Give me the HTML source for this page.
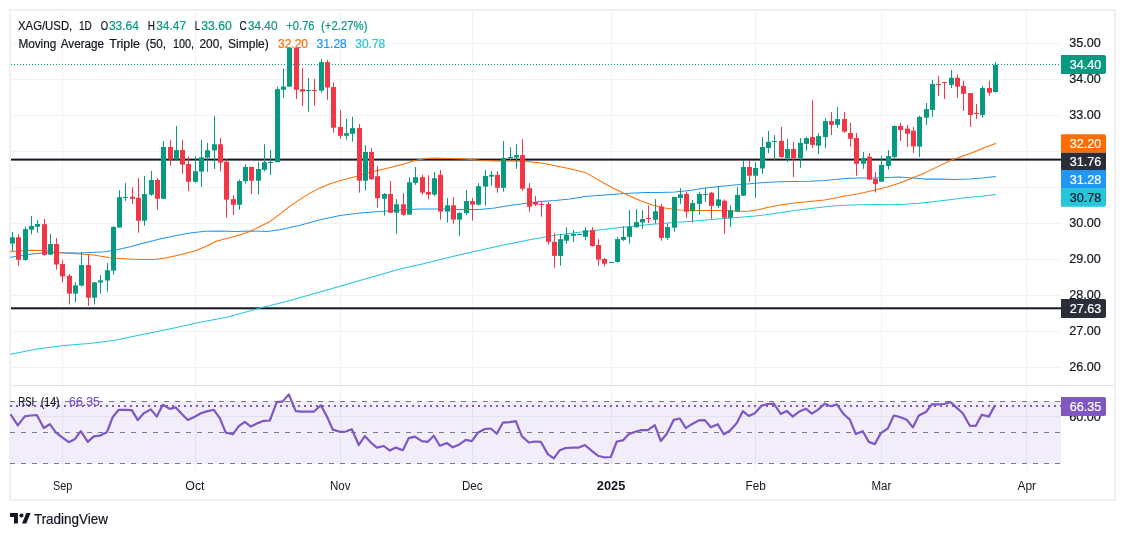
<!DOCTYPE html><html><head><meta charset="utf-8"><title>XAG/USD</title>
<style>html,body{margin:0;padding:0;background:#fff}body{width:1125px;height:537px;overflow:hidden;font-family:"Liberation Sans",sans-serif}svg{display:block}text{font-family:"Liberation Sans",sans-serif}</style></head><body>
<svg width="1125" height="537" viewBox="0 0 1125 537">
<rect width="1125" height="537" fill="#fff"/>
<rect x="10" y="10" width="1105" height="490" fill="none" stroke="#eef0f4" stroke-width="2"/>
<g stroke="#f1f2f4" stroke-width="1" shape-rendering="crispEdges">
<line x1="11" x2="1061" y1="43.5" y2="43.5"/>
<line x1="11" x2="1061" y1="79.5" y2="79.5"/>
<line x1="11" x2="1061" y1="115.5" y2="115.5"/>
<line x1="11" x2="1061" y1="151.5" y2="151.5"/>
<line x1="11" x2="1061" y1="187.5" y2="187.5"/>
<line x1="11" x2="1061" y1="223.5" y2="223.5"/>
<line x1="11" x2="1061" y1="259.5" y2="259.5"/>
<line x1="11" x2="1061" y1="295.5" y2="295.5"/>
<line x1="11" x2="1061" y1="331.5" y2="331.5"/>
<line x1="11" x2="1061" y1="367.5" y2="367.5"/>
<line x1="62.5" x2="62.5" y1="11" y2="471"/>
<line x1="195.5" x2="195.5" y1="11" y2="471"/>
<line x1="340.5" x2="340.5" y1="11" y2="471"/>
<line x1="472.5" x2="472.5" y1="11" y2="471"/>
<line x1="611.5" x2="611.5" y1="11" y2="471"/>
<line x1="755.5" x2="755.5" y1="11" y2="471"/>
<line x1="881.5" x2="881.5" y1="11" y2="471"/>
<line x1="1026.5" x2="1026.5" y1="11" y2="471"/>
<line x1="11" x2="1061" y1="416.5" y2="416.5"/>
</g>
<line x1="11" x2="1114" y1="385.5" y2="385.5" stroke="#e0e3eb" stroke-width="1" shape-rendering="crispEdges"/>
<rect x="11" y="401" width="1050" height="63" fill="#7e57c2" fill-opacity="0.1"/>
<g stroke="#787b86" stroke-width="1" stroke-dasharray="5 6" shape-rendering="crispEdges">
<line x1="10" x2="1061" y1="401.5" y2="401.5"/>
<line x1="10" x2="1061" y1="432.5" y2="432.5"/>
<line x1="10" x2="1061" y1="463.5" y2="463.5"/>
</g>
<rect x="11" y="158.6" width="1050" height="2" fill="#131722"/>
<rect x="11" y="307.3" width="1050" height="2" fill="#131722"/>
<polyline points="10.7,354.3 35.6,349.3 64.0,345.4 88.9,343.6 113.8,340.4 142.2,334.4 170.7,328.7 199.1,322.6 227.6,316.9 263.1,307.3 284.4,302.0 320.0,292.0 355.6,281.7 400.0,268.9 422.3,264.0 454.7,256.0 479.7,250.3 504.6,244.8 529.6,239.8 555.0,235.3 575.0,232.8 595.0,230.6 615.0,228.1 634.9,226.1 654.8,224.1 674.8,222.6 694.8,221.1 714.7,219.3 734.7,217.8 754.6,216.1 774.6,213.6 794.6,210.6 814.5,207.9 830.0,206.3 845.0,205.3 860.0,204.8 874.9,204.6 889.8,204.8 904.8,204.3 919.8,203.3 934.8,201.6 949.7,199.8 964.7,197.8 979.7,196.4 995.5,194.6" fill="none" stroke="#26c6da" stroke-width="1.05" stroke-linejoin="round" stroke-linecap="round"/>
<polyline points="10.5,257.3 30.0,254.3 42.4,253.0 60.0,252.8 80.0,253.0 105.0,251.8 117.0,249.8 130.0,246.8 145.0,242.8 160.0,239.0 175.0,235.8 190.0,233.0 205.0,231.3 219.6,231.0 234.6,231.5 251.0,231.0 267.0,231.5 274.5,230.5 280.0,229.8 300.0,225.3 320.0,219.8 340.0,215.6 359.9,213.1 379.8,211.4 399.8,209.9 419.8,208.9 439.7,208.9 459.7,209.4 479.7,209.4 494.6,208.1 509.6,205.6 524.6,203.4 539.5,201.6 555.0,200.6 570.0,199.1 585.0,196.6 605.0,194.9 624.9,193.6 644.8,192.4 659.8,192.4 674.8,191.9 689.8,190.4 704.7,188.1 719.7,186.6 734.7,184.9 749.7,183.7 764.6,182.4 779.6,181.7 794.6,181.4 809.6,181.2 824.5,180.4 835.0,179.4 845.0,178.6 860.0,177.9 874.9,177.9 887.3,177.4 899.8,177.1 912.3,178.1 924.8,179.1 939.8,179.1 954.7,179.4 969.7,178.9 982.2,178.1 995.5,176.6" fill="none" stroke="#2196f3" stroke-width="1.05" stroke-linejoin="round" stroke-linecap="round"/>
<polyline points="10.5,251.5 30.0,250.3 42.4,250.5 60.0,252.8 80.0,254.0 92.0,254.8 110.0,257.8 120.0,258.5 140.0,259.5 155.0,259.5 167.0,257.8 180.0,254.8 194.7,251.0 205.0,246.8 217.0,241.0 229.6,237.8 242.0,234.3 251.0,231.0 259.5,226.8 269.5,221.8 279.5,214.3 290.0,206.1 300.0,199.4 310.0,193.1 320.0,187.9 330.0,183.7 342.4,179.9 354.9,176.7 367.3,172.9 379.8,169.9 392.3,166.9 404.8,163.7 414.8,160.4 424.7,158.7 434.7,158.0 449.7,158.4 464.7,158.9 479.7,160.2 494.6,160.9 509.6,160.9 524.6,161.2 539.5,162.7 549.5,164.4 555.0,165.7 570.0,168.7 585.0,172.4 595.0,177.9 605.0,183.7 615.0,189.1 627.4,194.9 639.9,200.6 652.3,204.9 664.8,208.1 679.8,209.9 694.8,210.4 709.7,210.4 724.7,210.6 739.7,211.4 749.7,210.9 759.6,209.4 769.6,206.9 779.6,204.9 794.6,202.9 809.6,201.4 824.5,199.9 835.0,198.1 845.0,196.1 860.0,193.6 874.9,189.9 887.3,186.9 899.8,182.9 912.3,178.1 924.8,172.9 937.3,166.9 949.7,160.7 962.2,156.2 974.7,151.7 984.7,147.4 995.5,143.4" fill="none" stroke="#ff6d00" stroke-width="1.05" stroke-linejoin="round" stroke-linecap="round"/>
<rect x="12.0" y="232.2" width="1" height="19.0" fill="#089981"/>
<rect x="10.0" y="237.3" width="5" height="6.3" fill="#089981"/>
<rect x="18.0" y="234.2" width="1" height="31.7" fill="#f23645"/>
<rect x="16.0" y="237.3" width="5" height="22.5" fill="#f23645"/>
<rect x="25.0" y="226.6" width="1" height="34.2" fill="#089981"/>
<rect x="23.0" y="229.1" width="5" height="30.9" fill="#089981"/>
<rect x="31.0" y="216.0" width="1" height="18.4" fill="#089981"/>
<rect x="29.0" y="226.0" width="5" height="3.7" fill="#089981"/>
<rect x="37.0" y="220.0" width="1" height="12.8" fill="#089981"/>
<rect x="35.0" y="224.0" width="5" height="2.8" fill="#089981"/>
<rect x="44.0" y="219.0" width="1" height="36.7" fill="#f23645"/>
<rect x="42.0" y="224.2" width="5" height="30.7" fill="#f23645"/>
<rect x="50.0" y="233.8" width="1" height="20.9" fill="#089981"/>
<rect x="48.0" y="244.0" width="5" height="10.7" fill="#089981"/>
<rect x="56.0" y="237.9" width="1" height="31.7" fill="#f23645"/>
<rect x="54.0" y="244.0" width="5" height="20.5" fill="#f23645"/>
<rect x="62.0" y="260.0" width="1" height="22.5" fill="#f23645"/>
<rect x="60.0" y="264.1" width="5" height="12.3" fill="#f23645"/>
<rect x="69.0" y="274.1" width="1" height="30.3" fill="#f23645"/>
<rect x="67.0" y="275.8" width="5" height="17.8" fill="#f23645"/>
<rect x="75.0" y="282.3" width="1" height="20.1" fill="#089981"/>
<rect x="73.0" y="285.4" width="5" height="8.2" fill="#089981"/>
<rect x="81.0" y="252.2" width="1" height="34.4" fill="#089981"/>
<rect x="79.0" y="265.1" width="5" height="20.5" fill="#089981"/>
<rect x="88.0" y="254.9" width="1" height="51.0" fill="#f23645"/>
<rect x="86.0" y="265.1" width="5" height="32.6" fill="#f23645"/>
<rect x="94.0" y="282.3" width="1" height="22.1" fill="#089981"/>
<rect x="92.0" y="282.3" width="5" height="15.4" fill="#089981"/>
<rect x="100.0" y="275.2" width="1" height="18.6" fill="#089981"/>
<rect x="98.0" y="280.3" width="5" height="2.2" fill="#089981"/>
<rect x="107.0" y="263.1" width="1" height="28.4" fill="#089981"/>
<rect x="105.0" y="270.2" width="5" height="10.3" fill="#089981"/>
<rect x="113.0" y="226.2" width="1" height="48.5" fill="#089981"/>
<rect x="111.0" y="227.0" width="5" height="43.6" fill="#089981"/>
<rect x="119.0" y="190.2" width="1" height="37.3" fill="#089981"/>
<rect x="117.0" y="197.2" width="5" height="30.3" fill="#089981"/>
<rect x="125.0" y="183.1" width="1" height="17.8" fill="#089981"/>
<rect x="123.0" y="197.0" width="5" height="1.0" fill="#089981"/>
<rect x="132.0" y="187.2" width="1" height="16.8" fill="#f23645"/>
<rect x="130.0" y="196.8" width="5" height="2.0" fill="#f23645"/>
<rect x="138.0" y="178.0" width="1" height="54.8" fill="#f23645"/>
<rect x="136.0" y="197.8" width="5" height="22.9" fill="#f23645"/>
<rect x="144.0" y="175.9" width="1" height="49.9" fill="#089981"/>
<rect x="142.0" y="194.1" width="5" height="26.6" fill="#089981"/>
<rect x="151.0" y="170.8" width="1" height="25.0" fill="#089981"/>
<rect x="149.0" y="180.0" width="5" height="14.7" fill="#089981"/>
<rect x="157.0" y="178.0" width="1" height="31.7" fill="#f23645"/>
<rect x="155.0" y="180.0" width="5" height="18.8" fill="#f23645"/>
<rect x="163.0" y="140.9" width="1" height="57.9" fill="#089981"/>
<rect x="161.0" y="147.0" width="5" height="51.8" fill="#089981"/>
<rect x="170.0" y="140.1" width="1" height="25.6" fill="#f23645"/>
<rect x="168.0" y="147.0" width="5" height="12.5" fill="#f23645"/>
<rect x="176.0" y="126.1" width="1" height="33.4" fill="#089981"/>
<rect x="174.0" y="150.1" width="5" height="9.4" fill="#089981"/>
<rect x="182.0" y="140.1" width="1" height="33.8" fill="#f23645"/>
<rect x="180.0" y="150.1" width="5" height="14.5" fill="#f23645"/>
<rect x="188.0" y="156.2" width="1" height="34.9" fill="#f23645"/>
<rect x="186.0" y="164.0" width="5" height="17.8" fill="#f23645"/>
<rect x="195.0" y="156.2" width="1" height="26.7" fill="#089981"/>
<rect x="193.0" y="171.2" width="5" height="10.6" fill="#089981"/>
<rect x="201.0" y="140.1" width="1" height="46.9" fill="#089981"/>
<rect x="199.0" y="157.3" width="5" height="14.3" fill="#089981"/>
<rect x="207.0" y="143.0" width="1" height="28.8" fill="#089981"/>
<rect x="205.0" y="150.2" width="5" height="7.4" fill="#089981"/>
<rect x="214.0" y="116.1" width="1" height="52.9" fill="#089981"/>
<rect x="212.0" y="144.2" width="5" height="6.3" fill="#089981"/>
<rect x="220.0" y="138.0" width="1" height="33.3" fill="#f23645"/>
<rect x="218.0" y="144.2" width="5" height="18.4" fill="#f23645"/>
<rect x="226.0" y="159.1" width="1" height="58.4" fill="#f23645"/>
<rect x="224.0" y="161.8" width="5" height="37.9" fill="#f23645"/>
<rect x="233.0" y="195.0" width="1" height="19.9" fill="#f23645"/>
<rect x="231.0" y="199.1" width="5" height="5.7" fill="#f23645"/>
<rect x="239.0" y="179.6" width="1" height="30.1" fill="#089981"/>
<rect x="237.0" y="181.1" width="5" height="23.7" fill="#089981"/>
<rect x="245.0" y="164.3" width="1" height="19.4" fill="#089981"/>
<rect x="243.0" y="166.9" width="5" height="14.2" fill="#089981"/>
<rect x="251.0" y="166.9" width="1" height="27.1" fill="#f23645"/>
<rect x="249.0" y="166.9" width="5" height="13.8" fill="#f23645"/>
<rect x="258.0" y="161.8" width="1" height="32.8" fill="#089981"/>
<rect x="256.0" y="169.0" width="5" height="11.7" fill="#089981"/>
<rect x="264.0" y="144.2" width="1" height="27.2" fill="#089981"/>
<rect x="262.0" y="162.2" width="5" height="7.6" fill="#089981"/>
<rect x="270.0" y="149.9" width="1" height="25.0" fill="#089981"/>
<rect x="268.0" y="162.0" width="5" height="1.0" fill="#089981"/>
<rect x="277.0" y="86.7" width="1" height="75.5" fill="#089981"/>
<rect x="275.0" y="89.2" width="5" height="73.0" fill="#089981"/>
<rect x="283.0" y="68.7" width="1" height="29.3" fill="#089981"/>
<rect x="281.0" y="86.5" width="5" height="3.3" fill="#089981"/>
<rect x="289.0" y="47.9" width="1" height="38.8" fill="#089981"/>
<rect x="287.0" y="47.9" width="5" height="38.8" fill="#089981"/>
<rect x="296.0" y="47.9" width="1" height="51.1" fill="#f23645"/>
<rect x="294.0" y="47.9" width="5" height="41.9" fill="#f23645"/>
<rect x="302.0" y="68.0" width="1" height="38.0" fill="#f23645"/>
<rect x="300.0" y="89.2" width="5" height="2.4" fill="#f23645"/>
<rect x="308.0" y="77.9" width="1" height="33.8" fill="#089981"/>
<rect x="306.0" y="90.0" width="5" height="1.0" fill="#089981"/>
<rect x="314.0" y="78.9" width="1" height="26.6" fill="#f23645"/>
<rect x="312.0" y="90.0" width="5" height="1.0" fill="#f23645"/>
<rect x="321.0" y="59.0" width="1" height="33.6" fill="#089981"/>
<rect x="319.0" y="62.1" width="5" height="28.5" fill="#089981"/>
<rect x="327.0" y="59.9" width="1" height="39.9" fill="#f23645"/>
<rect x="325.0" y="62.1" width="5" height="25.4" fill="#f23645"/>
<rect x="333.0" y="82.4" width="1" height="50.4" fill="#f23645"/>
<rect x="331.0" y="87.1" width="5" height="40.6" fill="#f23645"/>
<rect x="340.0" y="110.0" width="1" height="28.9" fill="#f23645"/>
<rect x="338.0" y="127.0" width="5" height="8.8" fill="#f23645"/>
<rect x="346.0" y="118.8" width="1" height="20.9" fill="#089981"/>
<rect x="344.0" y="133.2" width="5" height="2.6" fill="#089981"/>
<rect x="352.0" y="116.8" width="1" height="25.0" fill="#089981"/>
<rect x="350.0" y="128.1" width="5" height="5.7" fill="#089981"/>
<rect x="359.0" y="124.0" width="1" height="68.6" fill="#f23645"/>
<rect x="357.0" y="128.1" width="5" height="52.6" fill="#f23645"/>
<rect x="365.0" y="145.1" width="1" height="45.4" fill="#089981"/>
<rect x="363.0" y="152.0" width="5" height="28.7" fill="#089981"/>
<rect x="371.0" y="147.9" width="1" height="32.0" fill="#f23645"/>
<rect x="369.0" y="152.0" width="5" height="27.3" fill="#f23645"/>
<rect x="377.0" y="166.0" width="1" height="41.5" fill="#f23645"/>
<rect x="375.0" y="176.2" width="5" height="22.1" fill="#f23645"/>
<rect x="384.0" y="193.0" width="1" height="22.7" fill="#089981"/>
<rect x="382.0" y="194.0" width="5" height="4.7" fill="#089981"/>
<rect x="390.0" y="180.9" width="1" height="31.8" fill="#f23645"/>
<rect x="388.0" y="194.0" width="5" height="18.7" fill="#f23645"/>
<rect x="396.0" y="199.1" width="1" height="34.4" fill="#089981"/>
<rect x="394.0" y="204.3" width="5" height="8.4" fill="#089981"/>
<rect x="403.0" y="193.2" width="1" height="22.5" fill="#f23645"/>
<rect x="401.0" y="204.3" width="5" height="10.4" fill="#f23645"/>
<rect x="409.0" y="177.2" width="1" height="37.5" fill="#089981"/>
<rect x="407.0" y="182.3" width="5" height="32.4" fill="#089981"/>
<rect x="415.0" y="167.0" width="1" height="17.8" fill="#089981"/>
<rect x="413.0" y="177.2" width="5" height="5.8" fill="#089981"/>
<rect x="422.0" y="174.8" width="1" height="19.8" fill="#f23645"/>
<rect x="420.0" y="177.2" width="5" height="15.4" fill="#f23645"/>
<rect x="428.0" y="175.2" width="1" height="24.1" fill="#f23645"/>
<rect x="426.0" y="192.0" width="5" height="2.6" fill="#f23645"/>
<rect x="434.0" y="172.1" width="1" height="24.0" fill="#089981"/>
<rect x="432.0" y="178.2" width="5" height="16.4" fill="#089981"/>
<rect x="440.0" y="170.0" width="1" height="49.8" fill="#f23645"/>
<rect x="438.0" y="174.8" width="5" height="36.8" fill="#f23645"/>
<rect x="447.0" y="198.1" width="1" height="24.6" fill="#089981"/>
<rect x="445.0" y="205.3" width="5" height="6.3" fill="#089981"/>
<rect x="453.0" y="197.1" width="1" height="26.7" fill="#f23645"/>
<rect x="451.0" y="205.3" width="5" height="14.3" fill="#f23645"/>
<rect x="459.0" y="212.1" width="1" height="23.7" fill="#089981"/>
<rect x="457.0" y="213.0" width="5" height="6.6" fill="#089981"/>
<rect x="466.0" y="190.0" width="1" height="25.3" fill="#089981"/>
<rect x="464.0" y="201.1" width="5" height="12.1" fill="#089981"/>
<rect x="472.0" y="198.1" width="1" height="22.5" fill="#f23645"/>
<rect x="470.0" y="201.1" width="5" height="3.5" fill="#f23645"/>
<rect x="478.0" y="183.1" width="1" height="22.6" fill="#089981"/>
<rect x="476.0" y="186.2" width="5" height="18.4" fill="#089981"/>
<rect x="485.0" y="170.2" width="1" height="35.5" fill="#089981"/>
<rect x="483.0" y="176.0" width="5" height="10.6" fill="#089981"/>
<rect x="491.0" y="171.2" width="1" height="14.6" fill="#089981"/>
<rect x="489.0" y="174.9" width="5" height="1.7" fill="#089981"/>
<rect x="497.0" y="171.2" width="1" height="21.6" fill="#f23645"/>
<rect x="495.0" y="174.9" width="5" height="12.9" fill="#f23645"/>
<rect x="503.0" y="141.1" width="1" height="50.6" fill="#089981"/>
<rect x="501.0" y="158.1" width="5" height="29.7" fill="#089981"/>
<rect x="510.0" y="147.3" width="1" height="13.3" fill="#089981"/>
<rect x="508.0" y="157.0" width="5" height="1.0" fill="#089981"/>
<rect x="516.0" y="144.2" width="1" height="24.6" fill="#089981"/>
<rect x="514.0" y="155.1" width="5" height="2.4" fill="#089981"/>
<rect x="522.0" y="139.1" width="1" height="51.6" fill="#f23645"/>
<rect x="520.0" y="155.1" width="5" height="33.6" fill="#f23645"/>
<rect x="529.0" y="183.1" width="1" height="28.7" fill="#f23645"/>
<rect x="527.0" y="188.2" width="5" height="18.5" fill="#f23645"/>
<rect x="535.0" y="196.0" width="1" height="10.1" fill="#f23645"/>
<rect x="533.0" y="202.0" width="5" height="2.6" fill="#f23645"/>
<rect x="541.0" y="201.1" width="1" height="15.6" fill="#f23645"/>
<rect x="539.0" y="204.0" width="5" height="1.0" fill="#f23645"/>
<rect x="548.0" y="201.9" width="1" height="42.7" fill="#f23645"/>
<rect x="546.0" y="204.0" width="5" height="37.8" fill="#f23645"/>
<rect x="554.0" y="233.1" width="1" height="34.7" fill="#f23645"/>
<rect x="552.0" y="241.8" width="5" height="14.1" fill="#f23645"/>
<rect x="560.0" y="234.4" width="1" height="31.3" fill="#089981"/>
<rect x="558.0" y="239.1" width="5" height="16.8" fill="#089981"/>
<rect x="566.0" y="227.2" width="1" height="16.4" fill="#089981"/>
<rect x="564.0" y="234.8" width="5" height="5.9" fill="#089981"/>
<rect x="573.0" y="229.9" width="1" height="12.1" fill="#089981"/>
<rect x="571.0" y="234.0" width="5" height="1.8" fill="#089981"/>
<rect x="579.0" y="234.0" width="1" height="0.8" fill="#089981"/>
<rect x="577.0" y="234.0" width="5" height="1.0" fill="#089981"/>
<rect x="585.0" y="227.2" width="1" height="12.7" fill="#089981"/>
<rect x="583.0" y="230.3" width="5" height="6.5" fill="#089981"/>
<rect x="592.0" y="227.2" width="1" height="19.5" fill="#f23645"/>
<rect x="590.0" y="229.9" width="5" height="16.2" fill="#f23645"/>
<rect x="598.0" y="239.1" width="1" height="26.6" fill="#f23645"/>
<rect x="596.0" y="245.0" width="5" height="14.6" fill="#f23645"/>
<rect x="604.0" y="257.9" width="1" height="8.6" fill="#f23645"/>
<rect x="602.0" y="259.0" width="5" height="4.7" fill="#f23645"/>
<rect x="611.0" y="262.0" width="1" height="0.9" fill="#089981"/>
<rect x="609.0" y="262.0" width="5" height="1.0" fill="#089981"/>
<rect x="617.0" y="237.0" width="1" height="25.7" fill="#089981"/>
<rect x="615.0" y="239.1" width="5" height="22.9" fill="#089981"/>
<rect x="623.0" y="226.2" width="1" height="14.7" fill="#089981"/>
<rect x="621.0" y="237.0" width="5" height="2.9" fill="#089981"/>
<rect x="629.0" y="210.2" width="1" height="33.4" fill="#089981"/>
<rect x="627.0" y="226.8" width="5" height="10.0" fill="#089981"/>
<rect x="636.0" y="209.2" width="1" height="18.4" fill="#089981"/>
<rect x="634.0" y="222.1" width="5" height="5.1" fill="#089981"/>
<rect x="642.0" y="210.2" width="1" height="18.5" fill="#089981"/>
<rect x="640.0" y="219.0" width="5" height="3.5" fill="#089981"/>
<rect x="648.0" y="205.4" width="1" height="17.6" fill="#f23645"/>
<rect x="646.0" y="218.0" width="5" height="1.0" fill="#f23645"/>
<rect x="655.0" y="199.1" width="1" height="24.5" fill="#089981"/>
<rect x="653.0" y="211.3" width="5" height="8.5" fill="#089981"/>
<rect x="661.0" y="203.9" width="1" height="36.9" fill="#f23645"/>
<rect x="659.0" y="206.6" width="5" height="31.3" fill="#f23645"/>
<rect x="667.0" y="223.6" width="1" height="16.3" fill="#089981"/>
<rect x="665.0" y="227.0" width="5" height="10.9" fill="#089981"/>
<rect x="674.0" y="196.9" width="1" height="34.8" fill="#089981"/>
<rect x="672.0" y="196.9" width="5" height="30.8" fill="#089981"/>
<rect x="680.0" y="188.1" width="1" height="15.8" fill="#089981"/>
<rect x="678.0" y="194.3" width="5" height="3.7" fill="#089981"/>
<rect x="686.0" y="191.8" width="1" height="26.0" fill="#f23645"/>
<rect x="684.0" y="193.9" width="5" height="17.8" fill="#f23645"/>
<rect x="692.0" y="200.0" width="1" height="22.5" fill="#089981"/>
<rect x="690.0" y="203.1" width="5" height="8.2" fill="#089981"/>
<rect x="699.0" y="191.8" width="1" height="22.9" fill="#089981"/>
<rect x="697.0" y="193.9" width="5" height="10.0" fill="#089981"/>
<rect x="705.0" y="188.1" width="1" height="13.9" fill="#089981"/>
<rect x="703.0" y="194.0" width="5" height="1.0" fill="#089981"/>
<rect x="711.0" y="191.8" width="1" height="27.0" fill="#f23645"/>
<rect x="709.0" y="192.8" width="5" height="13.1" fill="#f23645"/>
<rect x="718.0" y="186.1" width="1" height="22.1" fill="#089981"/>
<rect x="716.0" y="199.4" width="5" height="6.5" fill="#089981"/>
<rect x="724.0" y="199.4" width="1" height="34.4" fill="#f23645"/>
<rect x="722.0" y="200.8" width="5" height="17.0" fill="#f23645"/>
<rect x="730.0" y="205.1" width="1" height="21.9" fill="#089981"/>
<rect x="728.0" y="210.2" width="5" height="7.6" fill="#089981"/>
<rect x="737.0" y="187.1" width="1" height="24.2" fill="#089981"/>
<rect x="735.0" y="194.9" width="5" height="16.4" fill="#089981"/>
<rect x="743.0" y="160.1" width="1" height="35.6" fill="#089981"/>
<rect x="741.0" y="167.0" width="5" height="28.7" fill="#089981"/>
<rect x="749.0" y="160.5" width="1" height="21.5" fill="#f23645"/>
<rect x="747.0" y="167.0" width="5" height="8.7" fill="#f23645"/>
<rect x="755.0" y="162.2" width="1" height="35.5" fill="#089981"/>
<rect x="753.0" y="168.0" width="5" height="7.7" fill="#089981"/>
<rect x="762.0" y="137.1" width="1" height="36.8" fill="#089981"/>
<rect x="760.0" y="147.0" width="5" height="21.5" fill="#089981"/>
<rect x="768.0" y="131.0" width="1" height="22.1" fill="#089981"/>
<rect x="766.0" y="141.8" width="5" height="6.2" fill="#089981"/>
<rect x="774.0" y="135.1" width="1" height="24.9" fill="#089981"/>
<rect x="772.0" y="141.0" width="5" height="1.0" fill="#089981"/>
<rect x="781.0" y="126.9" width="1" height="30.7" fill="#f23645"/>
<rect x="779.0" y="140.8" width="5" height="16.2" fill="#f23645"/>
<rect x="787.0" y="138.7" width="1" height="23.4" fill="#089981"/>
<rect x="785.0" y="149.0" width="5" height="9.0" fill="#089981"/>
<rect x="793.0" y="141.8" width="1" height="35.2" fill="#f23645"/>
<rect x="791.0" y="149.0" width="5" height="9.0" fill="#f23645"/>
<rect x="800.0" y="138.1" width="1" height="29.7" fill="#089981"/>
<rect x="798.0" y="142.8" width="5" height="15.2" fill="#089981"/>
<rect x="806.0" y="136.7" width="1" height="14.1" fill="#089981"/>
<rect x="804.0" y="138.1" width="5" height="5.8" fill="#089981"/>
<rect x="812.0" y="99.8" width="1" height="48.2" fill="#f23645"/>
<rect x="810.0" y="137.1" width="5" height="7.8" fill="#f23645"/>
<rect x="818.0" y="133.0" width="1" height="20.9" fill="#089981"/>
<rect x="816.0" y="136.1" width="5" height="9.6" fill="#089981"/>
<rect x="825.0" y="118.1" width="1" height="29.9" fill="#089981"/>
<rect x="823.0" y="121.1" width="5" height="16.0" fill="#089981"/>
<rect x="831.0" y="111.9" width="1" height="23.2" fill="#f23645"/>
<rect x="829.0" y="121.1" width="5" height="3.7" fill="#f23645"/>
<rect x="837.0" y="107.0" width="1" height="20.9" fill="#089981"/>
<rect x="835.0" y="119.1" width="5" height="5.7" fill="#089981"/>
<rect x="844.0" y="111.9" width="1" height="21.1" fill="#f23645"/>
<rect x="842.0" y="119.1" width="5" height="12.5" fill="#f23645"/>
<rect x="850.0" y="122.8" width="1" height="24.1" fill="#f23645"/>
<rect x="848.0" y="133.0" width="5" height="5.7" fill="#f23645"/>
<rect x="856.0" y="133.0" width="1" height="42.8" fill="#f23645"/>
<rect x="854.0" y="138.0" width="5" height="25.8" fill="#f23645"/>
<rect x="863.0" y="152.0" width="1" height="16.9" fill="#089981"/>
<rect x="861.0" y="158.0" width="5" height="5.8" fill="#089981"/>
<rect x="869.0" y="153.2" width="1" height="26.4" fill="#f23645"/>
<rect x="867.0" y="156.7" width="5" height="22.9" fill="#f23645"/>
<rect x="875.0" y="172.0" width="1" height="20.5" fill="#f23645"/>
<rect x="873.0" y="178.8" width="5" height="5.1" fill="#f23645"/>
<rect x="881.0" y="156.1" width="1" height="25.6" fill="#089981"/>
<rect x="879.0" y="164.9" width="5" height="16.8" fill="#089981"/>
<rect x="888.0" y="150.1" width="1" height="19.5" fill="#089981"/>
<rect x="886.0" y="156.1" width="5" height="9.8" fill="#089981"/>
<rect x="894.0" y="125.3" width="1" height="33.8" fill="#089981"/>
<rect x="892.0" y="126.0" width="5" height="31.1" fill="#089981"/>
<rect x="900.0" y="122.9" width="1" height="18.0" fill="#f23645"/>
<rect x="898.0" y="126.0" width="5" height="4.0" fill="#f23645"/>
<rect x="907.0" y="124.9" width="1" height="22.1" fill="#f23645"/>
<rect x="905.0" y="128.6" width="5" height="5.1" fill="#f23645"/>
<rect x="913.0" y="127.0" width="1" height="26.0" fill="#f23645"/>
<rect x="911.0" y="130.7" width="5" height="15.7" fill="#f23645"/>
<rect x="919.0" y="115.7" width="1" height="41.4" fill="#089981"/>
<rect x="917.0" y="116.9" width="5" height="29.7" fill="#089981"/>
<rect x="926.0" y="103.0" width="1" height="21.9" fill="#089981"/>
<rect x="924.0" y="109.1" width="5" height="8.6" fill="#089981"/>
<rect x="932.0" y="79.8" width="1" height="36.9" fill="#089981"/>
<rect x="930.0" y="83.9" width="5" height="26.0" fill="#089981"/>
<rect x="938.0" y="76.1" width="1" height="19.7" fill="#f23645"/>
<rect x="936.0" y="84.0" width="5" height="1.0" fill="#f23645"/>
<rect x="944.0" y="81.9" width="1" height="17.0" fill="#f23645"/>
<rect x="942.0" y="82.0" width="5" height="1.0" fill="#f23645"/>
<rect x="951.0" y="70.0" width="1" height="18.0" fill="#089981"/>
<rect x="949.0" y="77.8" width="5" height="7.1" fill="#089981"/>
<rect x="957.0" y="74.7" width="1" height="23.1" fill="#f23645"/>
<rect x="955.0" y="77.8" width="5" height="8.8" fill="#f23645"/>
<rect x="963.0" y="80.8" width="1" height="30.1" fill="#f23645"/>
<rect x="961.0" y="86.0" width="5" height="7.7" fill="#f23645"/>
<rect x="970.0" y="93.1" width="1" height="33.8" fill="#f23645"/>
<rect x="968.0" y="93.1" width="5" height="21.9" fill="#f23645"/>
<rect x="976.0" y="104.0" width="1" height="15.1" fill="#f23645"/>
<rect x="974.0" y="113.0" width="5" height="1.0" fill="#f23645"/>
<rect x="982.0" y="86.0" width="1" height="31.7" fill="#089981"/>
<rect x="980.0" y="88.0" width="5" height="27.0" fill="#089981"/>
<rect x="989.0" y="80.8" width="1" height="15.0" fill="#f23645"/>
<rect x="987.0" y="88.0" width="5" height="4.7" fill="#f23645"/>
<rect x="995.0" y="62.1" width="1" height="30.5" fill="#089981"/>
<rect x="993.0" y="64.6" width="5" height="27.4" fill="#089981"/>
<line x1="11" x2="1061" y1="64.5" y2="64.5" stroke="#089981" stroke-width="1" stroke-dasharray="1 2" shape-rendering="crispEdges"/>
<polyline points="11.0,415.0 17.8,425.4 24.8,416.3 30.8,415.5 36.8,415.0 43.8,428.0 49.8,424.2 55.8,432.3 61.8,437.2 68.8,442.2 74.8,439.2 80.8,431.2 87.8,441.9 93.8,436.4 99.8,435.7 106.8,432.3 112.8,417.0 118.8,409.8 124.8,409.8 131.8,410.1 137.8,420.1 143.8,413.2 150.8,409.4 156.8,416.6 162.8,404.8 169.8,408.9 175.8,407.4 181.8,414.0 187.8,420.1 194.8,416.7 200.8,413.2 206.8,411.4 213.8,409.8 219.8,418.1 225.8,432.6 232.8,434.3 238.8,426.2 244.8,421.9 250.8,426.6 257.8,423.1 263.8,420.8 269.8,420.5 276.8,402.2 282.8,401.4 288.8,394.4 295.8,411.2 301.8,411.7 307.8,411.5 313.8,411.7 320.8,405.3 326.8,416.3 332.8,429.6 339.8,431.8 345.8,431.5 351.8,429.2 358.8,445.0 364.8,436.1 370.8,442.5 376.8,447.6 383.8,446.0 389.8,450.6 395.8,447.6 402.8,450.2 408.8,438.1 414.8,436.6 421.8,441.2 427.8,441.8 433.8,435.7 439.8,445.7 446.8,443.0 452.8,447.3 458.8,444.8 465.8,439.9 471.8,441.2 477.8,432.8 484.8,429.0 490.8,428.5 496.8,433.8 502.8,422.7 509.8,422.1 515.8,421.1 521.8,436.1 528.8,442.5 534.8,441.5 540.8,441.8 547.8,454.1 553.8,458.3 559.8,450.2 565.8,448.0 572.8,447.6 578.8,447.6 584.8,445.0 591.8,450.9 597.8,455.7 603.8,457.3 610.8,457.0 616.8,441.5 622.8,440.4 628.8,434.3 635.8,431.5 641.8,430.0 647.8,430.2 654.8,425.1 660.8,441.0 666.8,433.8 673.8,419.8 679.8,418.5 685.8,428.2 691.8,424.2 698.8,420.4 704.8,420.1 710.8,427.3 717.8,424.2 723.8,434.3 729.8,430.8 736.8,423.1 742.8,411.2 748.8,416.0 754.8,413.2 761.8,405.6 767.8,404.0 773.8,403.7 780.8,414.0 786.8,410.9 792.8,416.6 799.8,411.2 805.8,408.7 811.8,413.7 817.8,409.8 824.8,403.7 830.8,406.3 836.8,404.3 843.8,414.3 849.8,419.6 855.8,434.1 862.8,431.2 868.8,441.9 874.8,444.1 880.8,433.1 887.8,428.5 893.8,415.5 899.8,417.0 906.8,419.8 912.8,427.4 918.8,415.5 925.8,412.1 931.8,404.3 937.8,404.3 943.8,404.0 950.8,402.2 956.8,407.9 962.8,413.2 969.8,425.7 975.8,425.8 981.8,414.7 988.8,416.6 994.8,405.6" fill="none" stroke="#7e57c2" stroke-width="2.2" stroke-linejoin="round" stroke-linecap="round"/>
<line x1="10" x2="1061" y1="406" y2="406" stroke="#7e57c2" stroke-width="2" stroke-dasharray="2 4" shape-rendering="crispEdges"/>
<g font-size="12" fill="#131722" stroke="#131722" stroke-width="0.2">
<text x="1069.3" y="47.2" textLength="31.6" lengthAdjust="spacingAndGlyphs">35.00</text>
<text x="1069.3" y="83.2" textLength="31.6" lengthAdjust="spacingAndGlyphs">34.00</text>
<text x="1069.3" y="119.2" textLength="31.6" lengthAdjust="spacingAndGlyphs">33.00</text>
<text x="1069.3" y="227.2" textLength="31.6" lengthAdjust="spacingAndGlyphs">30.00</text>
<text x="1069.3" y="263.2" textLength="31.6" lengthAdjust="spacingAndGlyphs">29.00</text>
<text x="1069.3" y="299.2" textLength="31.6" lengthAdjust="spacingAndGlyphs">28.00</text>
<text x="1069.3" y="335.2" textLength="31.6" lengthAdjust="spacingAndGlyphs">27.00</text>
<text x="1069.3" y="371.2" textLength="31.6" lengthAdjust="spacingAndGlyphs">26.00</text>
<text x="1069.3" y="420.8" textLength="31.6" lengthAdjust="spacingAndGlyphs">60.00</text>
</g>
<path d="M1061 55 H1104 a2 2 0 0 1 2 2 V72 a2 2 0 0 1 -2 2 H1061 Z" fill="#089981"/>
<text x="1069.7" y="68.7" font-size="12" fill="#fff" stroke="#fff" stroke-width="0.2" textLength="31.6" lengthAdjust="spacingAndGlyphs">34.40</text>
<path d="M1061 134.2 H1104 a2 2 0 0 1 2 2 V152.7 H1061 Z" fill="#ff6d00"/>
<text x="1069.7" y="147.64999999999998" font-size="12" fill="#fff" stroke="#fff" stroke-width="0.2" textLength="31.6" lengthAdjust="spacingAndGlyphs">32.20</text>
<path d="M1061 152.7 H1106 V170 H1061 Z" fill="#2a2e39"/>
<text x="1069.7" y="165.54999999999998" font-size="12" fill="#fff" stroke="#fff" stroke-width="0.2" textLength="31.6" lengthAdjust="spacingAndGlyphs">31.76</text>
<path d="M1061 170 H1106 V187.9 H1061 Z" fill="#2196f3"/>
<text x="1069.7" y="183.84999999999997" font-size="12" fill="#fff" stroke="#fff" stroke-width="0.2" textLength="31.6" lengthAdjust="spacingAndGlyphs">31.28</text>
<path d="M1061 187.9 H1106 V204.8 a2 2 0 0 1 -2 2 H1061 Z" fill="#26c6da"/>
<text x="1069.7" y="202.05" font-size="12" fill="#131722" stroke="#131722" stroke-width="0.2" textLength="31.6" lengthAdjust="spacingAndGlyphs">30.78</text>
<path d="M1061 299 H1104 a2 2 0 0 1 2 2 V316 a2 2 0 0 1 -2 2 H1061 Z" fill="#2a2e39"/>
<text x="1069.7" y="312.7" font-size="12" fill="#fff" stroke="#fff" stroke-width="0.2" textLength="31.6" lengthAdjust="spacingAndGlyphs">27.63</text>
<path d="M1061 397 H1104 a2 2 0 0 1 2 2 V414 a2 2 0 0 1 -2 2 H1061 Z" fill="#7e57c2"/>
<text x="1069.7" y="410.7" font-size="12" fill="#fff" stroke="#fff" stroke-width="0.2" textLength="31.6" lengthAdjust="spacingAndGlyphs">66.35</text>
<text x="18.00" y="29.8" font-size="12" fill="#131722" stroke="#131722" stroke-width="0.2" textLength="54.25" lengthAdjust="spacingAndGlyphs">XAG/USD,</text>
<text x="79.00" y="29.8" font-size="12" fill="#131722" stroke="#131722" stroke-width="0.2" textLength="12.83" lengthAdjust="spacingAndGlyphs">1D</text>
<text x="100.70" y="29.8" font-size="12" fill="#131722" stroke="#131722" stroke-width="0.2" textLength="7.33" lengthAdjust="spacingAndGlyphs">O</text>
<text x="108.90" y="29.8" font-size="12" fill="#089981" stroke="#089981" stroke-width="0.2" textLength="30.03" lengthAdjust="spacingAndGlyphs">33.64</text>
<text x="147.80" y="29.8" font-size="12" fill="#131722" stroke="#131722" stroke-width="0.2" textLength="7.17" lengthAdjust="spacingAndGlyphs">H</text>
<text x="156.20" y="29.8" font-size="12" fill="#089981" stroke="#089981" stroke-width="0.2" textLength="29.83" lengthAdjust="spacingAndGlyphs">34.47</text>
<text x="194.80" y="29.8" font-size="12" fill="#131722" stroke="#131722" stroke-width="0.2" textLength="5.18" lengthAdjust="spacingAndGlyphs">L</text>
<text x="201.20" y="29.8" font-size="12" fill="#089981" stroke="#089981" stroke-width="0.2" textLength="30.63" lengthAdjust="spacingAndGlyphs">33.60</text>
<text x="239.40" y="29.8" font-size="12" fill="#131722" stroke="#131722" stroke-width="0.2" textLength="7.17" lengthAdjust="spacingAndGlyphs">C</text>
<text x="247.90" y="29.8" font-size="12" fill="#089981" stroke="#089981" stroke-width="0.2" textLength="29.63" lengthAdjust="spacingAndGlyphs">34.40</text>
<text x="286.30" y="29.8" font-size="12" fill="#089981" stroke="#089981" stroke-width="0.2" textLength="28.27" lengthAdjust="spacingAndGlyphs">+0.76</text>
<text x="321.10" y="29.8" font-size="12" fill="#089981" stroke="#089981" stroke-width="0.2" textLength="46.33" lengthAdjust="spacingAndGlyphs">(+2.27%)</text>
<text x="18.40" y="47.5" font-size="12" fill="#131722" stroke="#131722" stroke-width="0.2" textLength="37.78" lengthAdjust="spacingAndGlyphs">Moving</text>
<text x="60.80" y="47.5" font-size="12" fill="#131722" stroke="#131722" stroke-width="0.2" textLength="43.28" lengthAdjust="spacingAndGlyphs">Average</text>
<text x="109.30" y="47.5" font-size="12" fill="#131722" stroke="#131722" stroke-width="0.2" textLength="30.66" lengthAdjust="spacingAndGlyphs">Triple</text>
<text x="145.80" y="47.5" font-size="12" fill="#131722" stroke="#131722" stroke-width="0.2" textLength="20.18" lengthAdjust="spacingAndGlyphs">(50,</text>
<text x="172.90" y="47.5" font-size="12" fill="#131722" stroke="#131722" stroke-width="0.2" textLength="21.16" lengthAdjust="spacingAndGlyphs">100,</text>
<text x="199.50" y="47.5" font-size="12" fill="#131722" stroke="#131722" stroke-width="0.2" textLength="23.06" lengthAdjust="spacingAndGlyphs">200,</text>
<text x="228.00" y="47.5" font-size="12" fill="#131722" stroke="#131722" stroke-width="0.2" textLength="40.78" lengthAdjust="spacingAndGlyphs">Simple)</text>
<text x="278.00" y="47.5" font-size="12" fill="#ff6d00" stroke="#ff6d00" stroke-width="0.2" textLength="29.93" lengthAdjust="spacingAndGlyphs">32.20</text>
<text x="316.60" y="47.5" font-size="12" fill="#2196f3" stroke="#2196f3" stroke-width="0.2" textLength="30.23" lengthAdjust="spacingAndGlyphs">31.28</text>
<text x="355.30" y="47.5" font-size="12" fill="#26c6da" stroke="#26c6da" stroke-width="0.2" textLength="29.93" lengthAdjust="spacingAndGlyphs">30.78</text>
<text x="18.30" y="406.3" font-size="12" fill="#131722" stroke="#131722" stroke-width="0.2" textLength="15.90" lengthAdjust="spacingAndGlyphs">RSI</text>
<text x="40.70" y="406.3" font-size="12" fill="#131722" stroke="#131722" stroke-width="0.2" textLength="18.94" lengthAdjust="spacingAndGlyphs">(14)</text>
<text x="69.10" y="406.3" font-size="12" fill="#7e57c2" stroke="#7e57c2" stroke-width="0.2" textLength="30.73" lengthAdjust="spacingAndGlyphs">66.35</text>
<text x="52.90" y="490" font-size="12" fill="#131722" stroke="#131722" stroke-width="0" textLength="19.36" lengthAdjust="spacingAndGlyphs">Sep</text>
<text x="185.30" y="490" font-size="12" fill="#131722" stroke="#131722" stroke-width="0" textLength="19.27" lengthAdjust="spacingAndGlyphs">Oct</text>
<text x="329.90" y="490" font-size="12" fill="#131722" stroke="#131722" stroke-width="0" textLength="20.54" lengthAdjust="spacingAndGlyphs">Nov</text>
<text x="461.90" y="490" font-size="12" fill="#131722" stroke="#131722" stroke-width="0" textLength="20.54" lengthAdjust="spacingAndGlyphs">Dec</text>
<text x="745.50" y="490" font-size="12" fill="#131722" stroke="#131722" stroke-width="0" textLength="20.28" lengthAdjust="spacingAndGlyphs">Feb</text>
<text x="871.40" y="490" font-size="12" fill="#131722" stroke="#131722" stroke-width="0" textLength="19.87" lengthAdjust="spacingAndGlyphs">Mar</text>
<text x="1017.50" y="490" font-size="12" fill="#131722" stroke="#131722" stroke-width="0" textLength="18.48" lengthAdjust="spacingAndGlyphs">Apr</text>
<text x="596.80" y="489.7" font-size="12" fill="#131722" stroke="#131722" stroke-width="0" font-weight="bold" textLength="28.49" lengthAdjust="spacingAndGlyphs">2025</text>
<g fill="#131722"><path d="M10 513 H17.9 V523.5 H14 V516.9 H10 Z"/><circle cx="21.45" cy="515.45" r="2.05"/><path d="M26.3 513 H30.6 L26.3 523.5 H22 Z"/></g>
<text x="33.90" y="523.8" font-size="14.4" fill="#131722" stroke="#131722" stroke-width="0.2" textLength="74.22" lengthAdjust="spacingAndGlyphs">TradingView</text>
</svg></body></html>
